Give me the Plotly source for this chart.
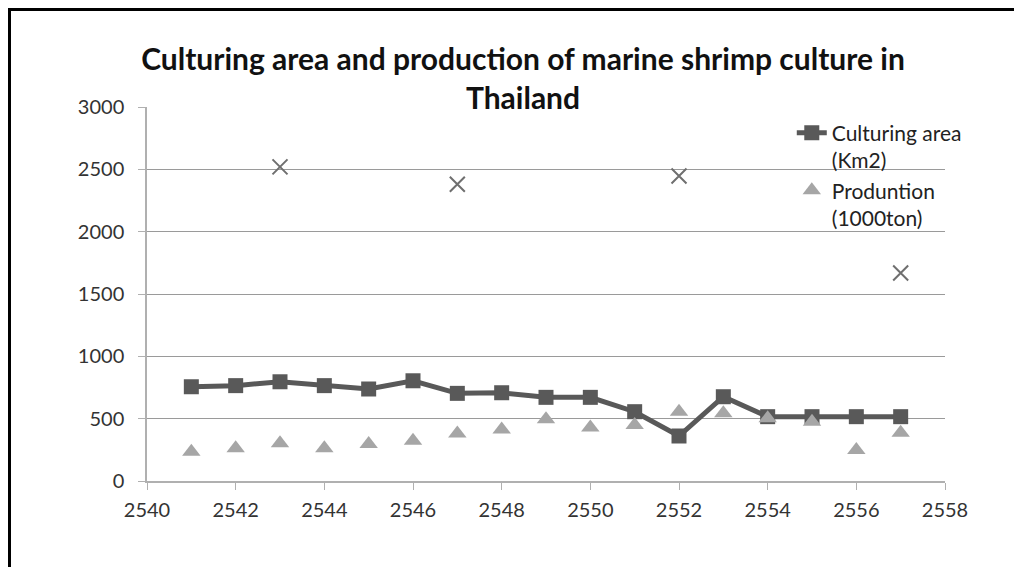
import plotly.graph_objects as go

years = list(range(2541, 2558))
culturing_area = [756, 765, 796, 765, 738, 804, 703, 708, 671, 671, 556, 361, 676, 516, 516, 516, 516]
production = [235, 262, 302, 262, 297, 323, 382, 414, 495, 430, 449, 556, 543, 503, 476, 249, 387]
extra_years = [2543, 2547, 2552, 2557]
extra_values = [2520, 2380, 2446, 1668]

font_name = "Lato, Open Sans, sans-serif"

fig = go.Figure()
fig.add_trace(go.Scatter(
    x=years, y=culturing_area, name="Culturing area<br>(Km2)",
    mode="lines+markers",
    line=dict(color="#595959", width=5),
    marker=dict(symbol="square", size=15, color="#595959"),
))
fig.add_trace(go.Scatter(
    x=years, y=production, name="Produntion<br>(1000ton)",
    mode="markers",
    marker=dict(symbol="triangle-up", size=16, color="#a6a6a6"),
))
fig.add_trace(go.Scatter(
    x=extra_years, y=extra_values, mode="markers", showlegend=False,
    marker=dict(symbol="x-thin", size=15, line=dict(color="#6f6f6f", width=2)),
))

# page has an 8px body margin, so the figure is 8px smaller than the window
W, H = 1014, 559
fig.update_layout(
    width=W, height=H,
    margin=dict(l=139, r=77, t=99, b=86),
    paper_bgcolor="white", plot_bgcolor="white",
    font=dict(family=font_name, size=20, color="#333333"),
    title=dict(
        text="<b>Culturing area and production of marine shrimp culture in<br>Thailand</b>",
        x=515 / W, xanchor="center", y=1 - 62 / H, yanchor="top",
        font=dict(family=font_name, size=30, color="#111111"),
    ),
    legend=dict(
        x=0.808, y=0.985, xanchor="left", yanchor="top",
        bgcolor="rgba(0,0,0,0)", font=dict(size=21, color="#222222"),
        valign="top", tracegroupgap=0,
    ),
    showlegend=True,
)
fig.update_xaxes(
    range=[2540, 2558], dtick=2, tick0=2540,
    showgrid=False, showline=True, linecolor="#b0b0b0", linewidth=1.5,
    ticks="outside", ticklen=7, tickcolor="#b0b0b0", zeroline=False,
    ticklabelstandoff=3,
)
fig.update_yaxes(
    range=[0, 3000], dtick=500,
    showgrid=True, gridcolor="#9a9a9a", gridwidth=1,
    showline=True, linecolor="#b0b0b0", linewidth=1.5,
    ticks="outside", ticklen=7, tickcolor="#b0b0b0", zeroline=False,
    ticklabelstandoff=10,
)

# black frame around the chart
fig.add_shape(type="rect", xref="paper", yref="paper",
              x0=(1.5 - 139) / 798, x1=(1040 - 139) / 798,
              y0=(473 - 600) / 374, y1=(473 - 1.5) / 374,
              line=dict(color="black", width=3))

fig.write_html("out.html")
